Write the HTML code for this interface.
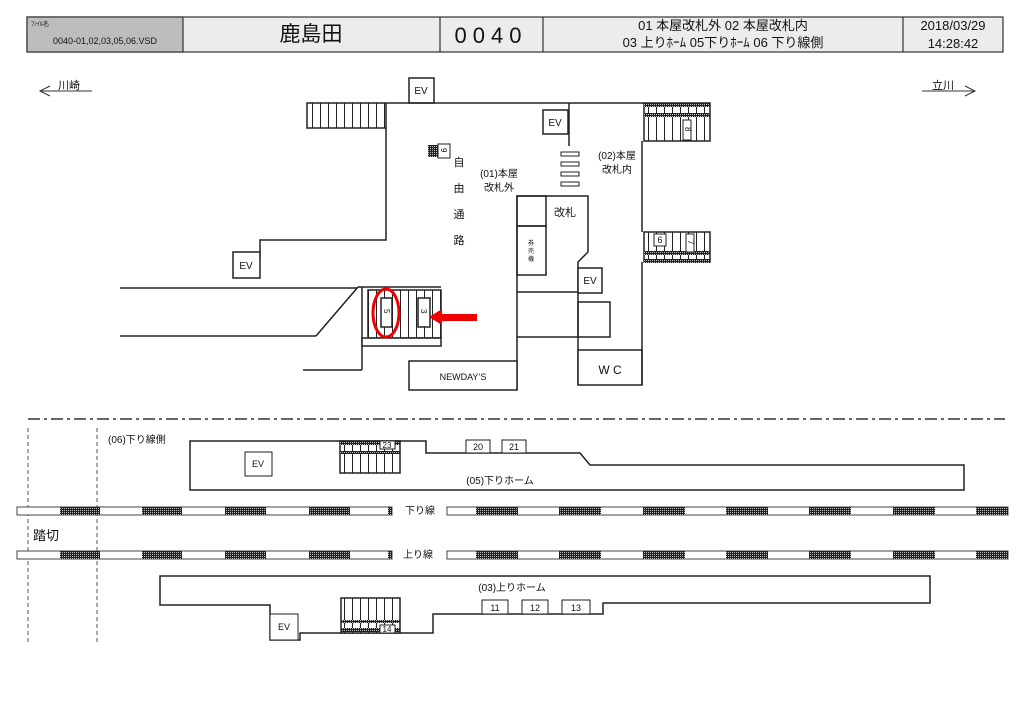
<!DOCTYPE html>
<html><head><meta charset="utf-8"><style>
body{margin:0;background:#fff;width:1024px;height:724px;overflow:hidden}
svg{display:block}
text{font-family:"Liberation Sans","Noto Sans CJK JP",sans-serif;fill:#111}
</style></head><body>
<svg width="1024" height="724" viewBox="0 0 1024 724" xmlns="http://www.w3.org/2000/svg">
<defs>
<pattern id="hat" width="2" height="2" patternUnits="userSpaceOnUse"><rect width="2" height="2" fill="#222"/><rect width="1" height="1" fill="#bbb"/></pattern>
<pattern id="st" width="8" height="10" patternUnits="userSpaceOnUse"><rect width="8" height="10" fill="#fff"/><line x1="0.5" y1="0" x2="0.5" y2="10" stroke="#222" stroke-width="1"/></pattern>
</defs>
<!-- header -->
<g stroke="#333" stroke-width="1.2">
<rect x="27" y="17" width="976" height="35" fill="#ececec"/>
<rect x="27" y="17" width="156" height="35" fill="#bdbdbd"/>
<line x1="440" y1="17" x2="440" y2="52"/><line x1="543" y1="17" x2="543" y2="52"/><line x1="903" y1="17" x2="903" y2="52"/>
</g>
<text x="31" y="26" font-size="6">ﾌｧｲﾙ名</text>
<text x="105" y="44" font-size="9" text-anchor="middle">0040-01,02,03,05,06.VSD</text>
<text x="311" y="41" font-size="21" text-anchor="middle">鹿島田</text>
<text x="491" y="43" font-size="22" text-anchor="middle" letter-spacing="6">0040</text>
<text x="723" y="30" font-size="13" text-anchor="middle">01 本屋改札外 02 本屋改札内</text>
<text x="723" y="47" font-size="13" text-anchor="middle">03 上りﾎｰﾑ 05下りﾎｰﾑ 06 下り線側</text>
<text x="953" y="30" font-size="13" text-anchor="middle">2018/03/29</text>
<text x="953" y="48" font-size="13" text-anchor="middle">14:28:42</text>
<!-- direction arrows -->
<g stroke="#333" fill="none" stroke-width="1">
<line x1="40" y1="91" x2="92" y2="91"/><polyline points="50,86 40,91 50,96"/>
<line x1="922" y1="91" x2="975" y2="91"/><polyline points="965,86 975,91 965,96"/>
</g>
<text x="58" y="89" font-size="11">川崎</text>
<text x="932" y="89" font-size="11">立川</text>
<!-- upper plan -->
<g stroke="#222" stroke-width="1.5" fill="none">
<rect x="409" y="78" width="25" height="25" fill="#fff"/>
<line x1="386" y1="103" x2="644" y2="103"/>
<rect x="307" y="103" width="79" height="25" fill="url(#st)"/>
<polyline points="386,128 386,240 260,240 260,258"/>
<rect x="233" y="252" width="27" height="26" fill="#fff"/>
<line x1="120" y1="288" x2="357" y2="288"/>
<line x1="120" y1="336" x2="316" y2="336"/>
<line x1="316" y1="336" x2="358" y2="287"/>
<line x1="358" y1="287" x2="441" y2="287"/>
<line x1="362" y1="287" x2="362" y2="370"/>
<line x1="303" y1="370" x2="362" y2="370"/>
<rect x="368" y="290" width="73" height="48" fill="url(#st)"/>
<rect x="362" y="338" width="79" height="8" fill="#fff"/>
<rect x="381" y="298" width="11" height="29" fill="#fff"/>
<rect x="418" y="298" width="12" height="29" fill="#fff"/>
<rect x="543" y="110" width="25" height="24" fill="#fff"/>
<line x1="569" y1="103" x2="569" y2="146"/>
<polyline points="517,390 517,196 588,196 588,252 578,262 578,385"/>
<rect x="517" y="196" width="29" height="30"/>
<rect x="517" y="226" width="29" height="49"/>
<rect x="578" y="268" width="24" height="25" fill="#fff"/>
<line x1="517" y1="292" x2="578" y2="292"/>
<rect x="578" y="302" width="32" height="35"/>
<line x1="517" y1="337" x2="578" y2="337"/>
<rect x="409" y="361" width="108" height="29" fill="#fff"/>
<rect x="578" y="350" width="64" height="35" fill="#fff"/>
<polyline points="642,141 642,232"/><polyline points="642,262 642,385"/>
<rect x="644" y="103" width="66" height="38" fill="url(#st)"/>
<rect x="644" y="232" width="66" height="30" fill="url(#st)"/>
</g>
<g stroke="none">
<rect x="644" y="103" width="66" height="4" fill="url(#hat)"/>
<rect x="644" y="113" width="66" height="4" fill="url(#hat)"/>
<rect x="644" y="251" width="66" height="4" fill="url(#hat)"/>
<rect x="644" y="259" width="66" height="4" fill="url(#hat)"/>
<rect x="428" y="145" width="10" height="12" fill="url(#hat)"/>
</g>
<g stroke="#222" stroke-width="1" fill="#fff">
<rect x="683" y="120" width="8" height="20"/>
<rect x="654" y="234" width="12" height="12"/>
<rect x="686" y="234" width="8" height="18"/>
<rect x="438" y="144" width="12" height="14"/>
<rect x="561" y="152" width="18" height="4"/><rect x="561" y="162" width="18" height="4"/><rect x="561" y="172" width="18" height="4"/><rect x="561" y="182" width="18" height="4"/>
</g>
<g font-size="10">
<text x="421" y="94" text-anchor="middle">EV</text>
<text x="555" y="126" text-anchor="middle">EV</text>
<text x="246" y="269" text-anchor="middle">EV</text>
<text x="590" y="284" text-anchor="middle">EV</text>
<text x="463" y="380" text-anchor="middle" font-size="9">NEWDAY’S</text>
<text x="610" y="374" text-anchor="middle" font-size="12">W C</text>
<text x="565" y="216" text-anchor="middle" font-size="11">改札</text>
<text x="660" y="243" text-anchor="middle" font-size="9">6</text>
<text x="459" y="166" text-anchor="middle" font-size="11">自</text>
<text x="459" y="192" text-anchor="middle" font-size="11">由</text>
<text x="459" y="218" text-anchor="middle" font-size="11">通</text>
<text x="459" y="244" text-anchor="middle" font-size="11">路</text>
<text x="499" y="177" text-anchor="middle">(01)本屋</text>
<text x="499" y="191" text-anchor="middle">改札外</text>
<text x="617" y="159" text-anchor="middle">(02)本屋</text>
<text x="617" y="173" text-anchor="middle">改札内</text>
<text x="531" y="245" text-anchor="middle" font-size="6">券</text>
<text x="531" y="253" text-anchor="middle" font-size="6">売</text>
<text x="531" y="261" text-anchor="middle" font-size="6">機</text>
</g>
<g font-size="8">
<text transform="translate(384,309) rotate(90)">5</text>
<text transform="translate(421,309) rotate(90)">3</text>
<text transform="translate(685,127) rotate(90)">8</text>
<text transform="translate(688,240) rotate(90)">7</text>
<text transform="translate(441,148) rotate(90)">9</text>
</g>
<ellipse cx="386" cy="313" rx="13" ry="24" fill="none" stroke="#e00" stroke-width="3"/>
<rect x="440" y="314" width="37" height="7" fill="#e00"/>
<polygon points="429,317 442,309 442,325" fill="#e00"/>
<!-- divider -->
<line x1="28" y1="419" x2="1005" y2="419" stroke="#333" stroke-width="1.5" stroke-dasharray="12,4,3,4"/>
<line x1="28" y1="428" x2="28" y2="642" stroke="#555" stroke-dasharray="4,3"/>
<line x1="97" y1="428" x2="97" y2="642" stroke="#555" stroke-dasharray="4,3"/>
<!-- platforms -->
<g stroke="#222" stroke-width="1.5" fill="none">
<polygon points="190,441 426,441 426,453 580,453 590,465 964,465 964,490 190,490" fill="#fff"/>
<rect x="340" y="441" width="60" height="32" fill="url(#st)"/>
<polygon points="160,576 930,576 930,603 603,603 603,614 433,614 433,633 400,633 340,633 300,633 300,640 270,640 270,605 160,605" fill="#fff"/>
<rect x="341" y="598" width="59" height="35" fill="url(#st)"/>
</g>
<g stroke="none">
<rect x="340" y="441" width="60" height="4" fill="url(#hat)"/><rect x="340" y="451" width="60" height="3" fill="url(#hat)"/>
<rect x="341" y="620" width="59" height="3" fill="url(#hat)"/><rect x="341" y="628" width="59" height="4" fill="url(#hat)"/>
</g>
<g stroke="#222" stroke-width="1" fill="#fff" font-size="9">
<rect x="245" y="452" width="27" height="24"/>
<rect x="466" y="440" width="24" height="13"/><rect x="502" y="440" width="24" height="13"/>
<rect x="380" y="441" width="15" height="8"/>
<rect x="482" y="600" width="26" height="14"/><rect x="522" y="600" width="26" height="14"/><rect x="562" y="600" width="28" height="14"/>
<rect x="380" y="625" width="15" height="8"/>
<rect x="270" y="614" width="28" height="26"/>
</g>
<g font-size="9">
<text x="258" y="467" text-anchor="middle">EV</text>
<text x="478" y="450" text-anchor="middle">20</text>
<text x="514" y="450" text-anchor="middle">21</text>
<text x="387" y="448" text-anchor="middle" font-size="8">23</text>
<text x="495" y="611" text-anchor="middle">11</text>
<text x="535" y="611" text-anchor="middle">12</text>
<text x="576" y="611" text-anchor="middle">13</text>
<text x="387" y="632" text-anchor="middle" font-size="8">14</text>
<text x="284" y="630" text-anchor="middle">EV</text>
<text x="108" y="443" font-size="10">(06)下り線側</text>
<text x="500" y="484" text-anchor="middle" font-size="10">(05)下りホーム</text>
<text x="512" y="591" text-anchor="middle" font-size="10">(03)上りホーム</text>
<text x="420" y="514" text-anchor="middle" font-size="10">下り線</text>
<text x="418" y="558" text-anchor="middle" font-size="10">上り線</text>
<text x="33" y="540" font-size="13">踏切</text>
</g>
<!-- tracks -->
<g stroke="#444" stroke-width="1" fill="#fff">
<rect x="17" y="507" width="375" height="8"/><rect x="447" y="507" width="561" height="8"/>
<rect x="17" y="551" width="375" height="8"/><rect x="447" y="551" width="561" height="8"/>
</g>
<g fill="url(#hat)">
<rect x="60" y="507" width="40" height="8"/><rect x="142" y="507" width="40" height="8"/><rect x="225" y="507" width="41" height="8"/><rect x="309" y="507" width="41" height="8"/><rect x="388" y="507" width="4" height="8"/>
<rect x="476" y="507" width="42" height="8"/><rect x="559" y="507" width="42" height="8"/><rect x="643" y="507" width="42" height="8"/><rect x="726" y="507" width="42" height="8"/><rect x="809" y="507" width="42" height="8"/><rect x="893" y="507" width="42" height="8"/><rect x="976" y="507" width="32" height="8"/>
<rect x="60" y="551" width="40" height="8"/><rect x="142" y="551" width="40" height="8"/><rect x="225" y="551" width="41" height="8"/><rect x="309" y="551" width="41" height="8"/><rect x="388" y="551" width="4" height="8"/>
<rect x="476" y="551" width="42" height="8"/><rect x="559" y="551" width="42" height="8"/><rect x="643" y="551" width="42" height="8"/><rect x="726" y="551" width="42" height="8"/><rect x="809" y="551" width="42" height="8"/><rect x="893" y="551" width="42" height="8"/><rect x="976" y="551" width="32" height="8"/>
</g>
</svg>
</body></html>
